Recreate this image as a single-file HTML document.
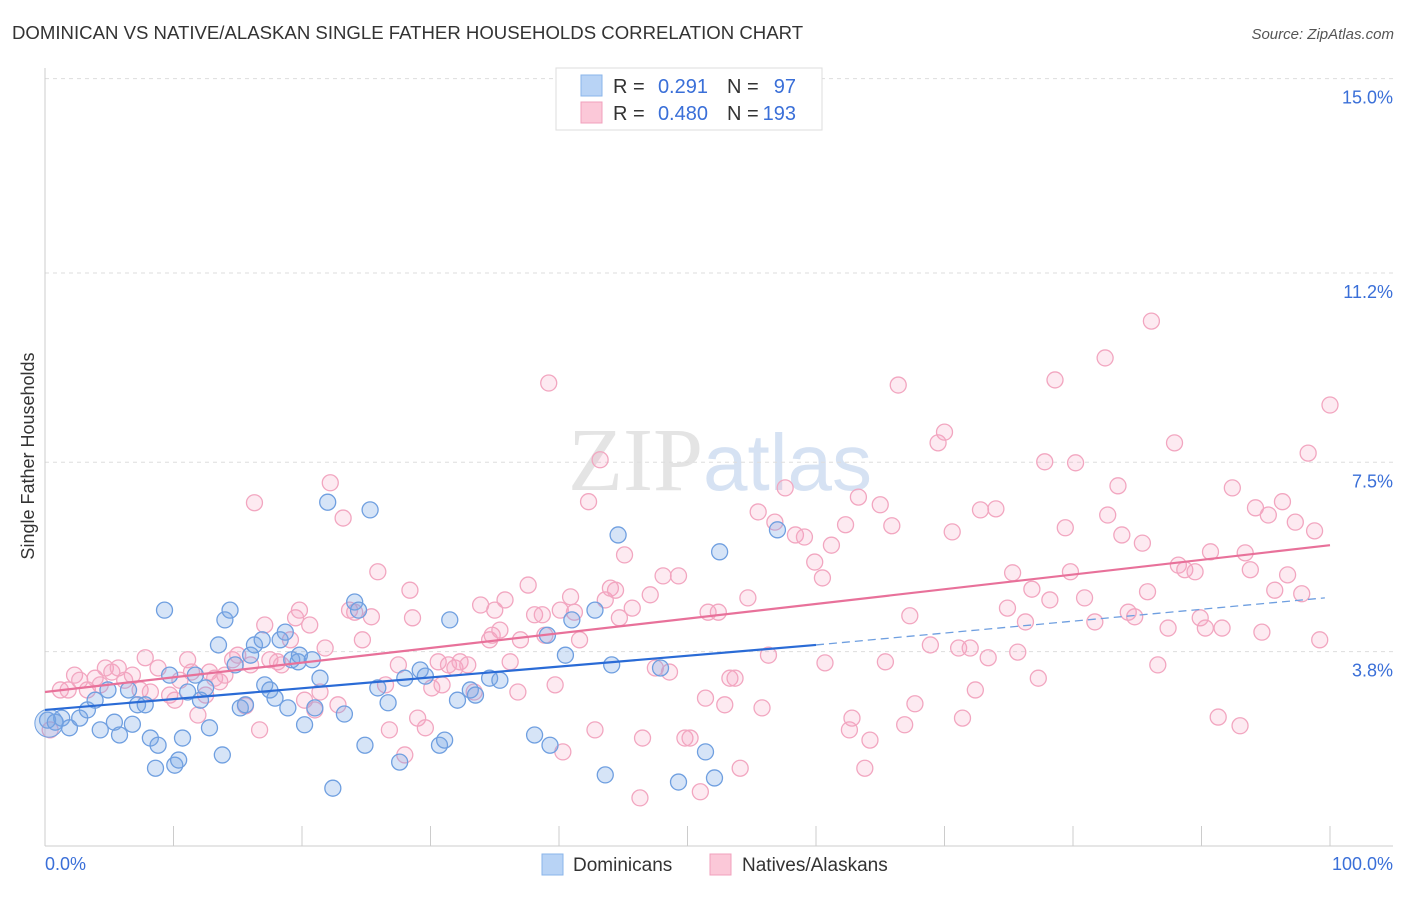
<!DOCTYPE html>
<html><head><meta charset="utf-8">
<style>
body{margin:0;background:#fff;font-family:"Liberation Sans",sans-serif;}
svg text{font-family:"Liberation Sans",sans-serif;}
</style></head>
<body>
<svg id="chart" width="1406" height="892" xmlns="http://www.w3.org/2000/svg">
<text x="12" y="39" font-size="18.6" fill="#333">DOMINICAN VS NATIVE/ALASKAN SINGLE FATHER HOUSEHOLDS CORRELATION CHART</text>
<text x="1394" y="39" font-size="15" fill="#555" text-anchor="end" font-style="italic">Source: ZipAtlas.com</text>
<text x="720" y="490" font-size="90" text-anchor="middle" fill="#e4e4e4"><tspan font-family="Liberation Serif">ZIP</tspan><tspan fill="#d6e2f3" font-size="80">atlas</tspan></text>
<g id="grid"></g>
<g id="axes"></g>
<g id="pinkDots"></g>
<g id="blueDots"></g>
<g id="trends"></g>
<text transform="translate(34,456) rotate(-90)" font-size="18" fill="#333" text-anchor="middle">Single Father Households</text>
<text x="45" y="870" font-size="18" fill="#3a6fd8">0.0%</text>
<text x="1393" y="870" font-size="18" fill="#3a6fd8" text-anchor="end">100.0%</text>
<g>
<rect x="556" y="68" width="266" height="62" fill="#fff" stroke="#ddd"/>
<rect x="581" y="75" width="21" height="21" fill="#b8d3f5" stroke="#8ab4ea"/>
<rect x="581" y="102" width="21" height="21" fill="#fbc8d8" stroke="#f0a0bc"/>
<text x="613" y="93" font-size="20" fill="#333">R =</text>
<text x="708" y="93" font-size="20" fill="#3a6fd8" text-anchor="end">0.291</text>
<text x="727" y="93" font-size="20" fill="#333">N =</text>
<text x="796" y="93" font-size="20" fill="#3a6fd8" text-anchor="end">97</text>
<text x="613" y="120" font-size="20" fill="#333">R =</text>
<text x="708" y="120" font-size="20" fill="#3a6fd8" text-anchor="end">0.480</text>
<text x="727" y="120" font-size="20" fill="#333">N =</text>
<text x="796" y="120" font-size="20" fill="#3a6fd8" text-anchor="end">193</text>
</g>
<g>
<rect x="542" y="854" width="21" height="21" fill="#b8d3f5" stroke="#8ab4ea"/>
<text x="573" y="871" font-size="19" fill="#333">Dominicans</text>
<rect x="710" y="854" width="21" height="21" fill="#fbc8d8" stroke="#f0a0bc"/>
<text x="742" y="871" font-size="19" fill="#333">Natives/Alaskans</text>
</g>
</svg>
<script>
const yTicks=[3.8,7.5,11.2,15.0];
const yTickLabels=["3.8%","7.5%","11.2%","15.0%"];
const xTicks=[0,10,20,30,40,50,60,70,80,90,100];
const blueX=[0.2,0.8,1.3,1.9,2.7,3.3,3.9,4.3,4.9,5.4,5.8,6.5,6.8,7.2,7.8,8.2,8.6,8.8,9.3,9.7,10.1,10.4,10.7,11.1,11.7,12.1,12.5,12.8,13.5,13.8,14.0,14.4,14.8,15.2,15.6,16.0,16.3,16.9,17.1,17.5,17.9,18.3,18.7,18.9,19.2,19.7,19.8,20.2,20.8,21.0,21.4,22.0,22.4,23.3,24.1,24.4,24.9,25.3,25.9,26.7,27.6,28.0,29.2,29.6,30.7,31.1,31.5,32.1,33.1,33.5,34.6,35.4,38.1,39.1,39.3,40.5,41.0,42.8,43.6,44.6,44.1,47.9,49.3,51.4,52.1,52.5,57.0];
const blueY=[2.46,2.42,2.50,2.31,2.50,2.66,2.85,2.27,3.05,2.42,2.17,3.05,2.38,2.76,2.76,2.11,1.52,1.97,4.61,3.34,1.58,1.68,2.11,3.01,3.34,2.85,3.09,2.31,3.93,1.78,4.42,4.61,3.54,2.70,2.76,3.73,3.93,4.03,3.15,3.05,2.89,4.03,4.18,2.70,3.64,3.60,3.73,2.37,3.64,2.70,3.28,6.72,1.13,2.58,4.77,4.61,1.97,6.57,3.09,2.80,1.64,3.28,3.44,3.32,1.97,2.07,4.42,2.85,3.05,2.95,3.28,3.24,2.17,4.12,1.97,3.73,4.42,4.61,1.39,6.08,3.54,3.48,1.25,1.84,1.33,5.75,6.18];
const pinkX=[0.4,1.2,1.8,2.3,2.7,3.3,3.9,4.3,4.7,5.2,5.7,6.2,6.8,7.4,7.8,8.2,8.8,9.7,10.1,10.5,11.1,11.4,11.9,12.5,12.8,13.2,13.6,14.0,14.6,15.0,15.6,16.0,16.3,16.7,17.1,17.5,18.1,18.4,19.1,19.5,19.8,20.2,20.6,21.0,21.4,21.8,22.2,22.8,23.2,23.7,24.1,24.7,25.4,25.9,26.5,26.8,27.5,28.0,28.4,28.6,29.0,29.6,30.1,30.6,30.9,31.4,31.9,32.3,32.9,33.4,33.9,34.6,34.8,35.0,35.4,35.8,36.2,36.8,37.0,37.6,38.1,38.7,38.9,39.2,39.7,40.1,40.3,40.9,41.2,41.6,42.3,42.8,43.2,43.6,44.0,44.4,44.7,45.1,45.7,46.3,46.5,47.1,47.5,48.1,48.6,49.3,49.8,50.2,51.0,51.4,51.6,52.4,52.9,53.3,53.7,54.1,54.7,55.5,55.8,56.3,56.8,57.6,58.4,59.1,59.9,60.5,60.7,61.2,62.3,62.6,62.8,64.2,63.8,63.3,65.0,65.4,65.9,66.4,66.9,67.3,67.7,68.9,69.5,70.0,70.6,71.1,71.4,72.4,72.0,73.4,72.8,74.0,74.9,75.3,75.7,76.3,76.8,77.3,77.8,78.2,78.6,79.4,79.8,80.2,80.9,81.7,82.5,82.7,83.5,83.8,84.3,84.8,85.4,85.8,86.1,86.6,87.4,87.9,88.2,88.7,89.5,89.9,90.3,90.7,91.3,91.6,92.4,93.0,93.4,93.8,94.2,94.7,95.2,95.7,96.3,96.7,97.3,97.8,98.3,98.8,99.2,100.0];
const pinkY=[2.27,3.05,3.05,3.34,3.24,3.05,3.28,3.15,3.48,3.40,3.48,3.24,3.34,3.05,3.68,3.01,3.48,2.95,2.85,3.24,3.64,3.40,2.56,2.95,3.40,3.28,3.21,3.34,3.64,3.73,2.74,3.54,6.71,2.27,4.32,3.64,3.60,3.54,4.03,4.46,4.61,2.85,4.32,2.66,3.01,3.87,7.10,2.76,6.41,4.61,4.57,4.03,4.48,5.36,3.15,2.27,3.54,1.78,5.00,4.46,2.50,2.31,3.09,3.60,3.15,3.54,3.48,3.60,3.54,3.01,4.71,4.03,4.12,4.61,4.22,4.81,3.60,3.01,4.03,5.10,4.52,4.52,4.12,9.05,3.15,4.61,1.84,4.87,4.57,4.03,6.73,2.27,7.55,4.81,5.04,5.00,4.46,5.69,4.65,0.94,2.11,4.91,3.48,5.28,3.40,5.28,2.11,2.11,1.06,2.89,4.57,4.57,2.76,3.28,3.28,1.52,4.85,6.53,2.70,3.73,6.33,7.00,6.08,6.04,5.55,5.24,3.58,5.88,6.28,2.27,2.50,2.07,1.52,6.82,6.67,3.60,6.26,9.01,2.37,4.50,2.78,3.93,7.88,8.09,6.14,3.87,2.50,3.05,3.87,3.68,6.57,6.59,4.65,5.34,3.79,4.38,5.02,3.28,7.51,4.81,9.11,6.22,5.36,7.49,4.85,4.38,9.54,6.47,7.04,6.08,4.57,4.48,5.92,4.97,10.26,3.54,4.26,7.88,5.49,5.40,5.36,4.46,4.26,5.75,2.52,4.26,7.00,2.35,5.73,5.40,6.61,4.18,6.47,5.00,6.73,5.30,6.33,4.93,7.68,6.16,4.03,8.62];
const blueTrendX=[0,60,99.6];
const blueTrendY=[2.66,3.93,4.85];
const pinkTrendX=[0,100];
const pinkTrendY=[3.01,5.88];

const X0=45,X1=1330,YB=846,PXPER=51.16;
const sx=v=>X0+(X1-X0)*v/100;
const sy=v=>YB-v*PXPER;
const NS="http://www.w3.org/2000/svg";
function mk(tag,attrs,parent){const e=document.createElementNS(NS,tag);for(const k in attrs)e.setAttribute(k,attrs[k]);parent.appendChild(e);return e;}
const grid=document.getElementById('grid'),axes=document.getElementById('axes');
yTicks.forEach((t,i)=>{
  const l=mk('line',{x1:45,x2:1393,y1:sy(t),y2:sy(t),stroke:'#ddd','stroke-dasharray':'4,4'},grid);
  
  
  const tx=mk('text',{x:1393,y:sy(t)+25,'font-size':18,fill:'#3a6fd8','text-anchor':'end'},axes);
  tx.textContent=yTickLabels[i];
  
  
});
const ya=mk('line',{x1:45,x2:45,y1:68,y2:846,stroke:'#ccc'},axes);


const xa=mk('line',{x1:45,x2:1393,y1:846,y2:846,stroke:'#ccc'},axes);


xTicks.forEach(t=>{
  const l=mk('line',{x1:sx(t),x2:sx(t),y1:826,y2:846,stroke:'#ccc'},axes);
  
  
});
const pg=document.getElementById('pinkDots');
pinkX.forEach((x,i)=>{
  const c=mk('circle',{cx:sx(x),cy:sy(pinkY[i]),r:8,fill:'rgba(244,160,190,0.22)',stroke:'#f2a6c0','stroke-width':1.3},pg);
  
  
});
const bg=document.getElementById('blueDots');
blueX.forEach((x,i)=>{
  const c=mk('circle',{cx:sx(x),cy:sy(blueY[i]),r:8,fill:'rgba(120,165,230,0.3)',stroke:'#6f9fe0','stroke-width':1.3},bg);
  
  
});
const big1=mk('circle',{cx:sx(0.3),cy:sy(2.4),r:14,fill:'rgba(120,165,230,0.3)',stroke:'#6f9fe0'},bg);


const tg=document.getElementById('trends');
const t1=mk('line',{x1:sx(blueTrendX[0]),y1:sy(blueTrendY[0]),x2:sx(blueTrendX[1]),y2:sy(blueTrendY[1]),stroke:'#2a6bd6','stroke-width':2.2},tg);


const t2=mk('line',{x1:sx(blueTrendX[1]),y1:sy(blueTrendY[1]),x2:sx(blueTrendX[2]),y2:sy(blueTrendY[2]),stroke:'#6f9fe0','stroke-width':1.3,'stroke-dasharray':'8,5'},tg);


const t3=mk('line',{x1:sx(pinkTrendX[0]),y1:sy(pinkTrendY[0]),x2:sx(pinkTrendX[1]),y2:sy(pinkTrendY[1]),stroke:'#e8719a','stroke-width':2.2},tg);


</script>
</body></html>
